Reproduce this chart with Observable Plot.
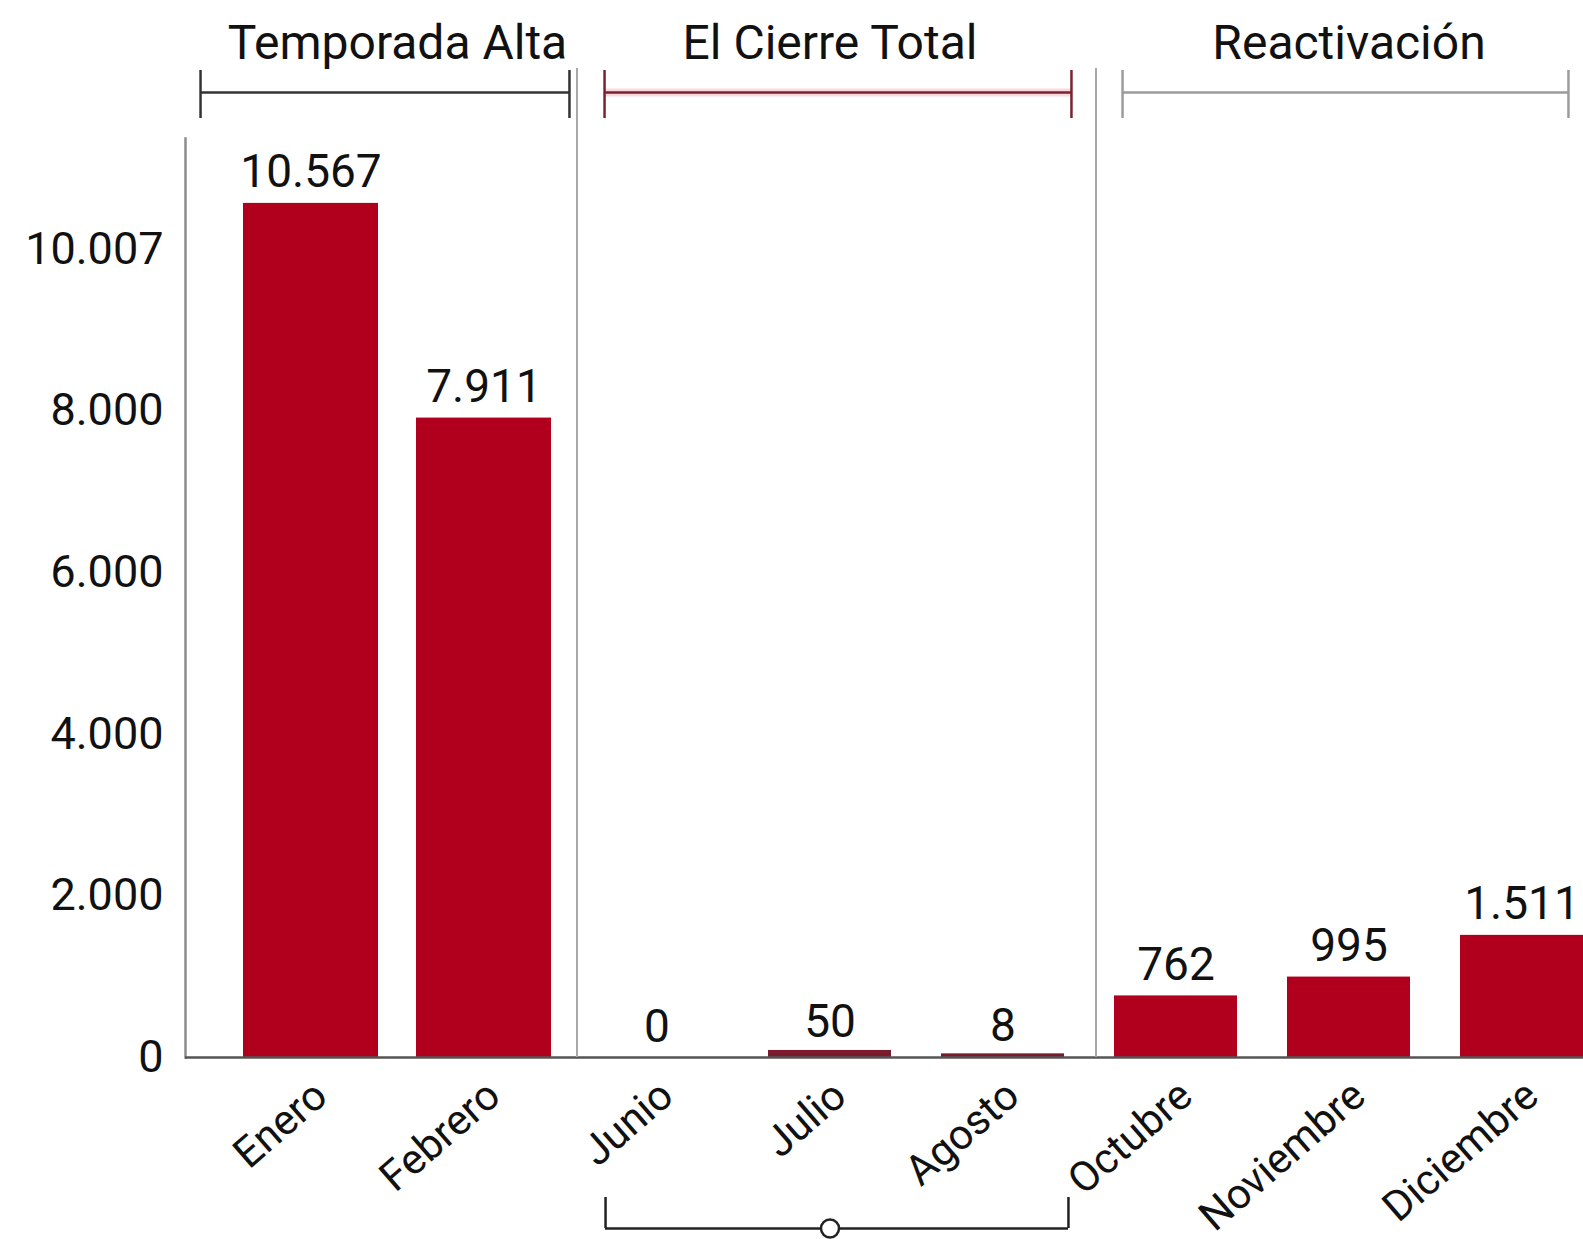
<!DOCTYPE html>
<html><head><meta charset="utf-8">
<script src="https://cdn.jsdelivr.net/npm/d3@7"></script>
<script src="https://cdn.jsdelivr.net/npm/@observablehq/plot@0.6"></script>
<style>body{margin:0;background:#fff;}</style>
</head><body><div id="chart"></div>
<script>
// ---- data ----
const months = ["Enero","Febrero","Junio","Julio","Agosto","Octubre","Noviembre","Diciembre"];
const visitors = [10567, 7911, 0, 50, 8, 762, 995, 1511];
const valueLabels = ["10.567","7.911","0","50","8","762","995","1.511"];
const monthPeriod = ["alta","alta","cierre","cierre","cierre","react","react","react"];
const periodKeys = ["alta","cierre","react"];
const periodNames = ["Temporada Alta","El Cierre Total","Reactivación"];
const periodStart = ["Enero","Junio","Octubre"];
const periodEnd = ["Febrero","Agosto","Diciembre"];
const yTicks = [0, 2000, 4000, 6000, 8000, 10000];
const yTickLabels = ["0","2.000","4.000","6.000","8.000","10.007"];

// ---- style config ----
const W = 1583, H = 1239;
const yMax = 11370;
const xRange = [223, 1608];
const padIn = 0.29;
const step = (xRange[1] - xRange[0]) / months.length;
const bw = step * (1 - padIn);
const barFill = {alta: "#b0001e", cierre: "#7a1b2c", react: "#b0001e"};
const bracketStroke = {alta: "#333333", cierre: "#7a2230", react: "#9b9b9b"};
// how far each header bracket reaches beyond its outer bars [left, right]
const bracketExt = {alta: [49, 24], cierre: [-9, 7], react: [-8, -15]};
const FONT = "Roboto, 'Noto Sans', sans-serif";

const table = months.map((m, i) => ({month: m, value: visitors[i], label: valueLabels[i], period: monthPeriod[i]}));
const periods = periodKeys.map((k, i) => {
  const i0 = months.indexOf(periodStart[i]), i1 = months.indexOf(periodEnd[i]);
  const mid = (i0 + i1) / 2;
  return {key: k, name: periodNames[i], start: periodStart[i], end: periodEnd[i],
          anchor: months[Math.ceil(mid)], half: mid % 1 !== 0};
});
const cierre = periods.filter(p => p.key === "cierre");

const bracketMarks = periods.flatMap(p => {
  const [eL, eR] = bracketExt[p.key];
  const stroke = bracketStroke[p.key];
  const marks = [];
  if (p.key === "cierre") {
    marks.push(Plot.ruleY([p], {x1: "start", x2: "end", y: () => yMax, dy: -46, insetLeft: -eL, insetRight: -eR, stroke: "#f7d0d6", strokeWidth: 8, strokeOpacity: 0.8}));
  }
  marks.push(
    Plot.ruleY([p], {x1: "start", x2: "end", y: () => yMax, dy: -46, insetLeft: -eL, insetRight: -eR, stroke, strokeWidth: 2.5}),
    Plot.ruleX([p], {x: "start", y1: () => yMax, y2: () => yMax, dx: -(bw / 2 + eL), insetTop: -68, insetBottom: 20, stroke, strokeWidth: 2.5}),
    Plot.ruleX([p], {x: "end", y1: () => yMax, y2: () => yMax, dx: (bw / 2 + eR), insetTop: -68, insetBottom: 20, stroke, strokeWidth: 2.5})
  );
  return marks;
});

const chart = Plot.plot({
  width: W, height: H,
  marginLeft: 185, marginRight: 0, marginTop: 138, marginBottom: H - 1057,
  style: {fontFamily: FONT, background: "#fff", color: "#111", overflow: "visible"},
  x: {type: "band", domain: months, range: xRange, paddingInner: padIn, paddingOuter: padIn / 2, axis: null},
  y: {domain: [0, yMax]},
  color: {type: "identity"},
  marks: [
    // bars
    Plot.barY(table.filter(d => d.period === "alta"), {x: "month", y: "value", fill: d => barFill[d.period], insetLeft: -6, insetRight: -6}),
    Plot.barY(table.filter(d => d.period === "react"), {x: "month", y: "value", fill: d => barFill[d.period]}),
    Plot.barY(table.filter(d => d.period === "cierre" && d.value > 0), {x: "month", y: "value", fill: d => barFill[d.period], insetTop: -3}),
    // axes
    Plot.frame({anchor: "left", stroke: "#8c8c8c", strokeWidth: 2.5}),
    Plot.ruleY([0], {stroke: "#555", strokeWidth: 2.5}),
    Plot.axisY({ticks: yTicks, tickFormat: d => yTickLabels[yTicks.indexOf(d)], tickSize: 0, tickPadding: 22, fontSize: 45, label: null, fill: "#111"}),
    // separators between periods
    Plot.ruleX(periodStart.slice(1), {x: d => d, dx: -80, insetTop: -70, stroke: "#a8a8a8", strokeWidth: 2}),
    // top brackets and headings
    ...bracketMarks,
    Plot.text(periods.filter(p => p.half), {x: "anchor", y: () => yMax, text: "name", dx: -step / 2, dy: -95, fontSize: 48, fill: "#111"}),
    Plot.text(periods.filter(p => !p.half), {x: "anchor", y: () => yMax, text: "name", dy: -95, fontSize: 48, fill: "#111"}),
    // value labels
    Plot.text(table, {x: "month", y: "value", text: "label", lineAnchor: "bottom", dy: -16, fontSize: 46, fill: "#111"}),
    // month labels
    Plot.text(table, {x: "month", frameAnchor: "bottom", text: "month", rotate: -41, textAnchor: "end", lineAnchor: "middle", dx: 10, dy: 32, fontSize: 42, fill: "#111"}),
    // bottom bracket under the closure months
    Plot.ruleY(cierre, {x1: "start", x2: "end", y: () => 0, dy: 171, insetLeft: 10, insetRight: -4, stroke: "#222", strokeWidth: 2.5}),
    Plot.ruleX(cierre, {x: "start", y1: () => 0, y2: () => 0, dx: -bw / 2 + 10, insetTop: 140, insetBottom: -171, stroke: "#222", strokeWidth: 2.5}),
    Plot.ruleX(cierre, {x: "end", y1: () => 0, y2: () => 0, dx: bw / 2 + 4, insetTop: 140, insetBottom: -171, stroke: "#222", strokeWidth: 2.5}),
    Plot.dot(cierre, {x: "anchor", y: () => 0, dy: 171, r: 9, fill: "white", stroke: "#222", strokeWidth: 2.5})
  ]
});
document.getElementById("chart").appendChild(chart);
</script>
</body></html>
